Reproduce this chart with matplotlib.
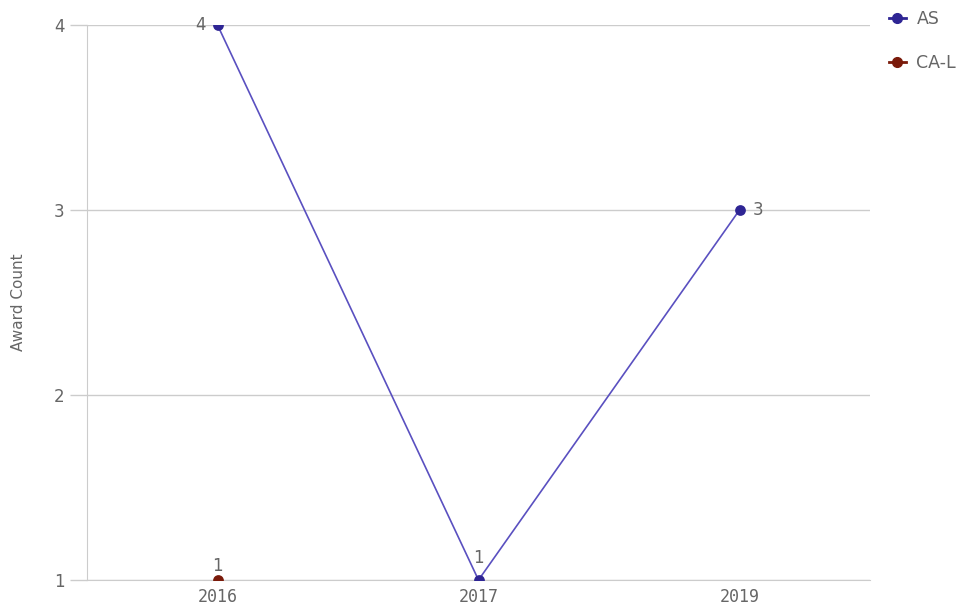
import matplotlib.pyplot as plt
from matplotlib.lines import Line2D

years = ["2016", "2017", "2019"]
as_x = ["2016", "2017", "2019"]
as_counts = [4, 1, 3]
cal_x = ["2016"]
cal_counts = [1]
y_ticks = [1, 2, 3, 4]

as_dot = "#2e2594"
as_line = "#5a50c0"
cal_dot = "#7a1a0a"
grey = "#666666"

fig = plt.figure(figsize=(9.71, 6.11), dpi=100)
ax = fig.add_axes([87 / 971, 31 / 611, 783 / 971, 555 / 611])

xpos = {y: i for i, y in enumerate(years)}
ax_x = [xpos[v] for v in as_x]
cl_x = [xpos[v] for v in cal_x]

ax.plot(ax_x, as_counts, color=as_line, lw=1.2, zorder=3)
ax.scatter(ax_x, as_counts, color=as_dot, s=60, zorder=4, clip_on=True, linewidths=0)
ax.scatter(cl_x, cal_counts, color=cal_dot, s=60, zorder=4, clip_on=True, linewidths=0)

# value labels
offsets = [(-12, 0), (0, 16), (13, 0)]
for x, y, (dx, dy) in zip(ax_x, as_counts, offsets):
    ax.annotate(str(y), (x, y), xytext=(dx, dy), textcoords="offset points",
                ha="center", va="center", fontsize=12, color=grey, annotation_clip=False)
for x, y in zip(cl_x, cal_counts):
    ax.annotate(str(y), (x, y), xytext=(0, 10), textcoords="offset points",
                ha="center", va="center", fontsize=12, color=grey, annotation_clip=False)

ax.set_xlim(-0.5, len(years) - 0.5)
ax.set_ylim(1, 4)
ax.set_xticks(range(len(years)))
ax.set_xticklabels(years, family="DejaVu Sans Mono", fontsize=12, color=grey)
ax.set_yticks(y_ticks)
ax.set_yticklabels([str(v) for v in y_ticks], fontsize=12, color=grey)
ax.tick_params(axis="x", length=0, pad=6)
ax.tick_params(axis="y", length=12, color="#cccccc", width=1, pad=4)
ax.grid(axis="y", color="#cccccc", lw=1)
for s in ["top", "right"]:
    ax.spines[s].set_visible(False)
ax.spines["left"].set_color("#cccccc")
ax.spines["bottom"].set_color("#cccccc")
ax.set_ylabel("Award Count", fontsize=11, color=grey, labelpad=20)

handles = [Line2D([], [], color=as_dot, marker="o", ms=7, lw=2),
           Line2D([], [], color=cal_dot, marker="o", ms=7, lw=2)]
fig.legend(handles, ["AS", "CA-L"], loc="upper left", bbox_to_anchor=(873 / 971, 1 + 6 / 611),
           frameon=False, fontsize=12.5, labelcolor=grey, handlelength=1.0, labelspacing=1.5,
           handletextpad=0.6)

fig.savefig("out.png", dpi=100)
